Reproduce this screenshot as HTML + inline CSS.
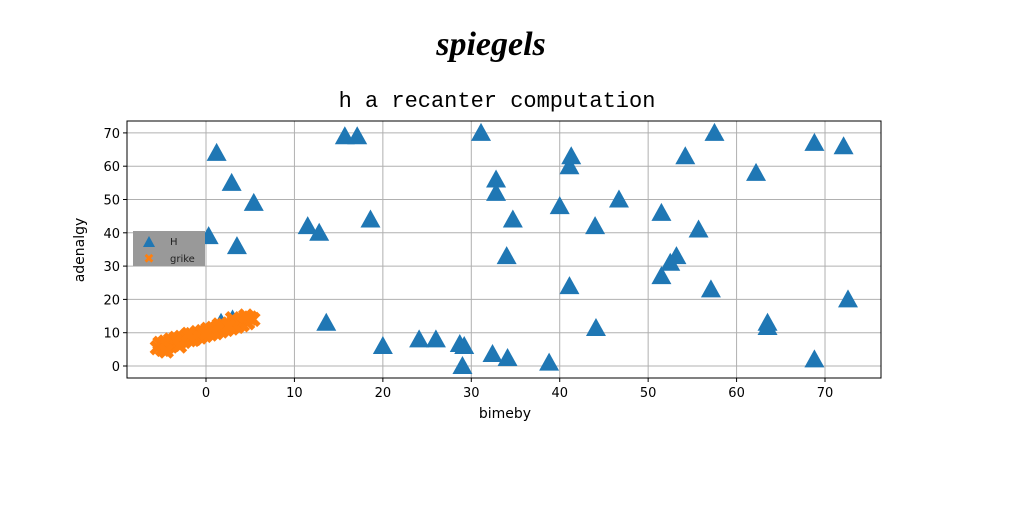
<!DOCTYPE html>
<html><head><meta charset="utf-8"><style>
body{margin:0;background:#fff;}
svg text{font-family:"DejaVu Sans","Liberation Sans",sans-serif;}
</style></head><body>
<svg id="chart" width="1024" height="512" viewBox="0 0 1024 512">
<text x="491" y="55" text-anchor="middle" style="font-family:'Liberation Serif',serif;font-style:italic;font-weight:bold;font-size:34px">spiegels</text>
<text x="497" y="107" text-anchor="middle" style="font-family:'Liberation Mono',monospace;font-size:22px">h a recanter computation</text>
<g id="grid"></g>
<g id="marks"></g>
<rect x="127" y="121" width="754" height="257" fill="none" stroke="#000" stroke-width="1"/>
<g id="axes"></g>
<text x="505" y="418" text-anchor="middle" font-size="14">bimeby</text>
<text transform="translate(84,250) rotate(-90)" text-anchor="middle" font-size="14">adenalgy</text>
<g>
<rect x="133" y="231" width="72" height="35" fill="#999"/>
<polygon points="149,236 155,247 143,247" fill="#1f77b4"/>
<text x="170" y="245" font-size="10" fill="#222">H</text>
<text x="149" y="263" text-anchor="middle" font-size="13" font-weight="bold" fill="#ff7f0e">✖</text>
<text x="170" y="262" font-size="10" fill="#222">grike</text>
</g>
</svg>
<script>
const xTicks=[0,10,20,30,40,50,60,70];
const yTicks=[0,10,20,30,40,50,60,70];
const hX=[1.2,2.9,5.4,0.3,3.5,1.7,3,11.5,12.8,13.6,15.7,17.1,18.6,20,24.1,26,28.7,29.2,29,31.1,32.8,32.8,32.4,34.1,34,34.7,38.8,40,41.1,41.3,41.1,44,44.1,46.7,51.5,51.5,52.5,53.2,54.2,55.7,57.1,57.5,62.2,63.5,63.5,68.8,68.8,72.1,72.6];
const hY=[64,55,49,39,36,13,14,42,40,13,69,69,44,6,8,8,6.6,6,0,70,56,52,3.6,2.4,33,44,1,48,60,63,24,42,11.4,50,46,27,31,33,63,41,23,70,58,13,11.7,67,2,66,20];
const gX=[-5.5,-5.2,-4.9,-4.6,-4.3,-4,-3.7,-3.4,-3.1,-2.8,-2.5,-2.2,-1.9,-1.6,-1.3,-1,-0.7,-0.4,-0.1,0.2,0.5,0.8,1.1,1.4,1.7,2,2.3,2.6,2.9,3.2,3.5,3.8,4.1,4.4,4.7,5,5.3,-4.5,-3,-1.5,0,1.5,3,4.5,-2,2.5];
const gY=[5.5,6.8,5,7.2,6,7.8,6.5,8.3,7,8.6,7.4,9,7.9,9.4,8.3,10,8.7,10.3,9.2,11,9.6,11.3,10,11.8,10.5,12.2,11,12.6,11.4,13.2,11.9,13.5,12.4,14,13,14.4,14,4.5,6,8,9.8,12.3,14.2,15,9.5,12];
const NS='http://www.w3.org/2000/svg';
const X0=127,X1=881,Y0=121,Y1=378;
function sx(v){return 206+v*8.843;}
function sy(v){return 366-v*3.33;}
function mk(t,a,p){const e=document.createElementNS(NS,t);for(const k in a)e.setAttribute(k,a[k]);p.appendChild(e);return e;}
const grid=document.getElementById('grid'),axes=document.getElementById('axes'),marks=document.getElementById('marks');
xTicks.forEach(v=>{const x=sx(v);
 const l=mk('line',{x1:x,x2:x,y1:Y0,y2:Y1,stroke:'#b0b0b0','stroke-width':1},grid);
 
 const t=mk('line',{x1:x,x2:x,y1:Y1,y2:Y1+4,stroke:'#000'},axes);
 
 const tx=mk('text',{x:x,y:Y1+19,'text-anchor':'middle','font-size':13},axes);tx.textContent=v;
 });
yTicks.forEach(v=>{const y=sy(v);
 const l=mk('line',{x1:X0,x2:X1,y1:y,y2:y,stroke:'#b0b0b0','stroke-width':1},grid);
 
 const t=mk('line',{x1:X0-4,x2:X0,y1:y,y2:y,stroke:'#000'},axes);
 
 const tx=mk('text',{x:X0-7,y:y+5,'text-anchor':'end','font-size':13},axes);tx.textContent=v;
 });
hX.forEach((v,i)=>{const x=sx(v),y=sy(hY[i]);
 const p=mk('polygon',{points:`${x},${y-10} ${x+10},${y+8} ${x-10},${y+8}`,fill:'#1f77b4'},marks);
 });
gX.forEach((v,i)=>{const x=sx(v),y=sy(gY[i]);
 const g=mk('path',{d:`M${x-6},${y-6}L${x+6},${y+6}M${x-6},${y+6}L${x+6},${y-6}`,stroke:'#ff7f0e','stroke-width':5},marks);
 });
</script>
</body></html>
